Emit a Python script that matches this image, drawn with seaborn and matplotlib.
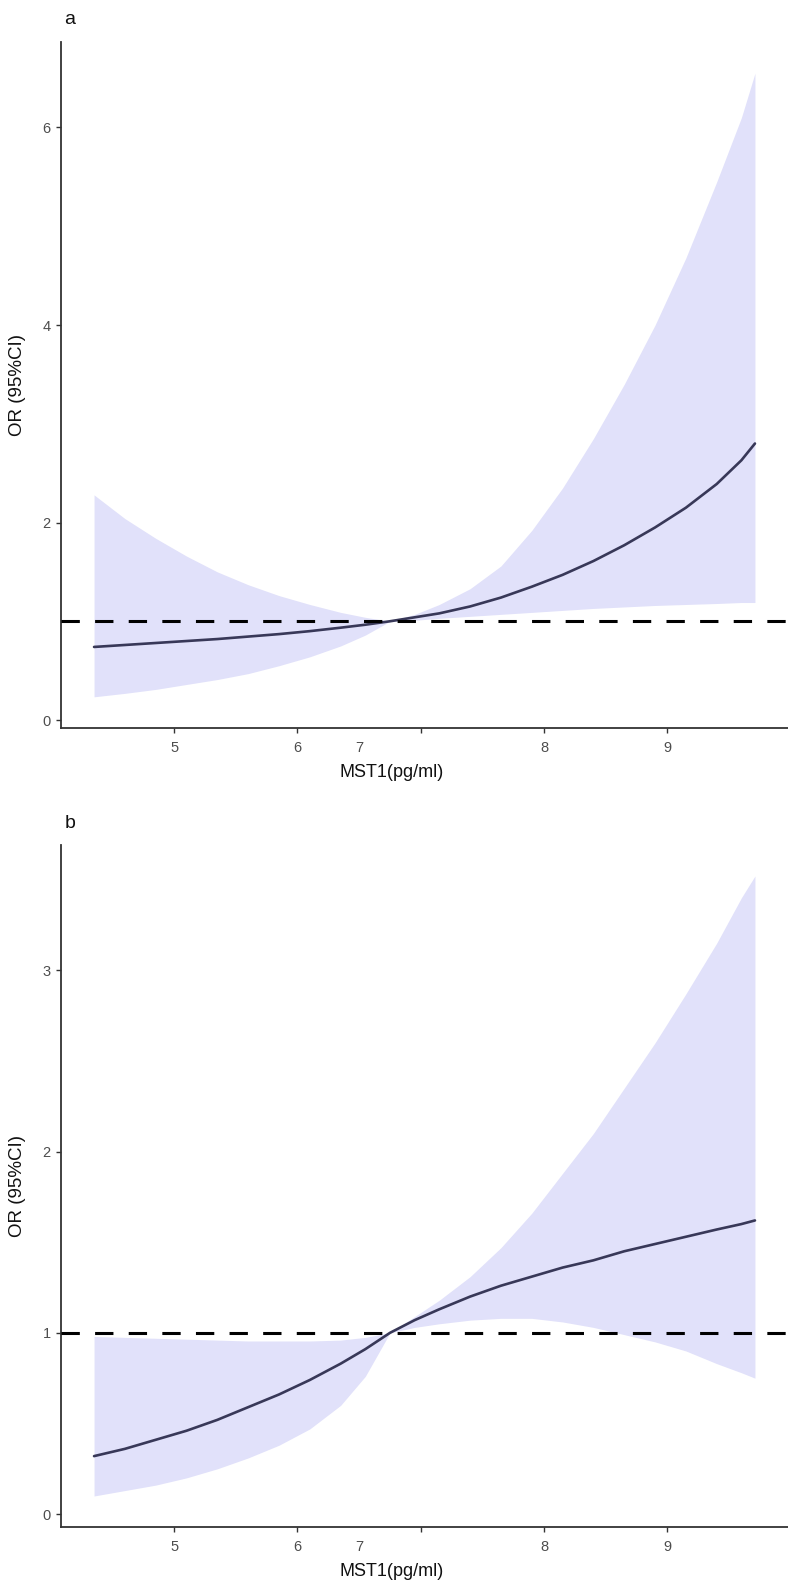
import numpy as np
import pandas as pd
import matplotlib
matplotlib.use("Agg")
import matplotlib.pyplot as plt
import matplotlib.transforms as mtransforms
import seaborn as sns

# ---------------- data ----------------
x_vals = [4.35, 4.6, 4.85, 5.1, 5.35, 5.6, 5.85, 6.1, 6.35, 6.55, 6.75, 6.95,
          7.15, 7.4, 7.65, 7.9, 8.15, 8.4, 8.65, 8.9, 9.15, 9.4, 9.6, 9.71]

or_a = [0.74, 0.76, 0.78, 0.80, 0.82, 0.845, 0.87, 0.90, 0.935, 0.965, 1.0, 1.04,
        1.08, 1.15, 1.24, 1.35, 1.47, 1.61, 1.77, 1.95, 2.15, 2.39, 2.63, 2.8]
upper_a = [2.28, 2.04, 1.84, 1.66, 1.50, 1.37, 1.26, 1.17, 1.09, 1.04, 1.0, 1.07,
           1.17, 1.33, 1.56, 1.92, 2.35, 2.85, 3.4, 4.0, 4.68, 5.45, 6.1, 6.55]
lower_a = [0.235, 0.27, 0.31, 0.36, 0.41, 0.47, 0.55, 0.64, 0.75, 0.86, 1.0, 1.01,
           1.03, 1.05, 1.07, 1.09, 1.11, 1.13, 1.145, 1.16, 1.17, 1.18, 1.19, 1.19]

or_b = [0.32, 0.36, 0.41, 0.46, 0.52, 0.59, 0.66, 0.74, 0.83, 0.91, 1.0, 1.07,
        1.13, 1.20, 1.26, 1.31, 1.36, 1.40, 1.45, 1.49, 1.53, 1.57, 1.60, 1.62]
upper_b = [0.98, 0.975, 0.97, 0.965, 0.96, 0.955, 0.955, 0.955, 0.96, 0.975, 1.0, 1.09,
           1.18, 1.31, 1.47, 1.66, 1.88, 2.10, 2.35, 2.60, 2.87, 3.15, 3.40, 3.52]
lower_b = [0.10, 0.13, 0.16, 0.20, 0.25, 0.31, 0.38, 0.47, 0.60, 0.76, 1.0, 1.03,
           1.05, 1.07, 1.08, 1.08, 1.06, 1.03, 0.99, 0.95, 0.90, 0.83, 0.78, 0.75]

x_ticks = [5, 6, 7, 8, 9]
y_ticks_a = [0, 2, 4, 6]
y_ticks_b = [0, 1, 2, 3]
panel_labels = ["a", "b"]
x_title = "MST1(pg/ml)"
y_title = "OR (95%CI)"
ref_value = 1

# ---------------- style ----------------
sns.set_theme(style="ticks")
plt.rcParams["font.family"] = ["Liberation Sans", "DejaVu Sans"]

band_color = "#e1e1fa"
line_color = "#383858"
axis_color = "#333333"
tick_label_color = "#4d4d4d"

W, H = 788, 1587
fig = plt.figure(figsize=(W / 100, H / 100), dpi=100)

ax_a = fig.add_axes([61 / W, 1 - 728 / H, (W - 61) / W, (728 - 42) / H])
ax_b = fig.add_axes([61 / W, 1 - 1527 / H, (W - 61) / W, (1527 - 845) / H])

panels = [
    (ax_a, or_a, upper_a, lower_a, y_ticks_a),
    (ax_b, or_b, upper_b, lower_b, y_ticks_b),
]

for ax, orv, up, lo, yt in panels:
    df = pd.DataFrame({"x": x_vals, "or": orv, "upper": up, "lower": lo})
    ax.fill_between(df["x"], df["lower"], df["upper"], color=band_color, lw=0, zorder=1)
    sns.lineplot(data=df, x="x", y="or", ax=ax, color=line_color, lw=1.9, zorder=3)
    ax.axhline(ref_value, color="black", lw=2.2, dashes=(6, 5), zorder=4,
               dash_capstyle="butt")

    xr = max(x_vals) - min(x_vals)
    ax.set_xlim(min(x_vals) - 0.05 * xr, max(x_vals) + 0.05 * xr)
    ymin = min(lo)
    ymax = max(up)
    yr = ymax - ymin
    ax.set_ylim(ymin - 0.05 * yr, ymax + 0.05 * yr)

    ax.set_xticks(x_ticks)
    ax.set_xticklabels([str(t) for t in x_ticks])
    ax.set_yticks(yt)
    ax.set_yticklabels([str(t) for t in yt])

    for s in ["top", "right"]:
        ax.spines[s].set_visible(False)
    for s in ["left", "bottom"]:
        ax.spines[s].set_color(axis_color)
        ax.spines[s].set_linewidth(1.3)
    ax.tick_params(axis="both", colors=axis_color, labelcolor=tick_label_color,
                   length=3.5, width=1.0, labelsize=10.5, pad=4)
    ax.tick_params(axis="x", pad=6)

    ax.set_xlabel(x_title, fontsize=13, color="#111111")
    ax.set_ylabel(y_title, fontsize=13.5, color="#111111")
    ax.xaxis.set_label_coords((392 - 61) / (W - 61), -36 / 686)
    ax.yaxis.set_label_coords(-35 / (W - 61), 0.5)

    # the "7" label sits to the left of its tick in the reference
    for lab in ax.get_xticklabels():
        if lab.get_text() == "7":
            lab.set_transform(lab.get_transform() +
                              mtransforms.ScaledTranslation(-0.61, 0, fig.dpi_scale_trans))

fig.text(70 / W, 1 - 19 / H, panel_labels[0], fontsize=14, ha="center", va="center", color="#111111")
fig.text(70 / W, 1 - 823 / H, panel_labels[1], fontsize=14, ha="center", va="center", color="#111111")

fig.savefig("out.png", dpi=100)
